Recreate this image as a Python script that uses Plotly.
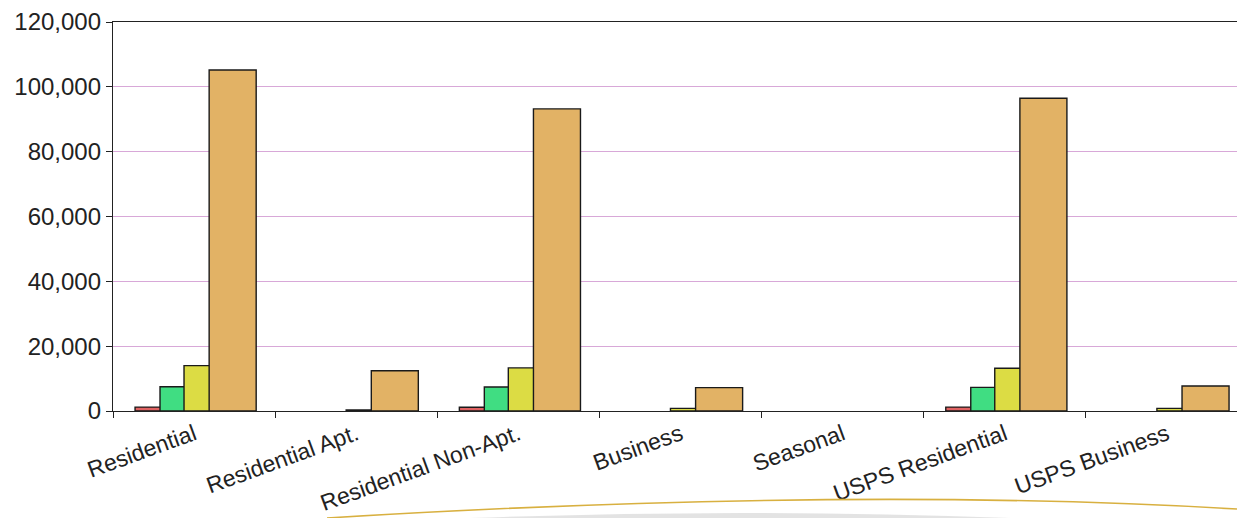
import plotly.graph_objects as go

categories = ["Residential", "Residential Apt.", "Residential Non-Apt.", "Business",
              "Seasonal", "USPS Residential", "USPS Business"]
series_names = ["Series A", "Series B", "Series C", "Series D"]
series_a = [1200, None, 1150, None, None, 1200, None]
series_b = [7500, None, 7400, None, None, 7300, None]
series_c = [14000, 300, 13300, 800, None, 13200, 800]
series_d = [105200, 12400, 93200, 7200, None, 96500, 7700]
series_values = [series_a, series_b, series_c, series_d]
y_tick_values = [0, 20000, 40000, 60000, 80000, 100000, 120000]

colors = ["#e06262", "#40dd82", "#dcdc44", "#e2b265"]
offsets = [-0.364, -0.21, -0.062, 0.093]
bar_width = 0.29

fig = go.Figure()
for name, vals, col, off in zip(series_names, series_values, colors, offsets):
    fig.add_trace(go.Bar(
        x=categories, y=vals, name=name,
        marker=dict(color=col, line=dict(color="#1a1a1a", width=1.4)),
        width=bar_width, offset=off,
    ))

W, H = 1237, 518
ml, mr, mt, mb = 113, 0, 22, 107
pw, ph = W - ml - mr, H - mt - mb

def px(xp):
    return (xp - ml) / pw

def py(yp):
    return (H - mb - yp) / ph

# decorative golden arc and soft grey shadow at the bottom
arc = (f"M {px(327)},{py(518)} Q {px(850)},{py(486)} {px(1237)},{py(509)}")
shadow = (f"M {px(470)},{py(518)} Q {px(740)},{py(508)} {px(1010)},{py(518)} Z")

fig.update_layout(
    width=W, height=H,
    margin=dict(l=ml, r=mr, t=mt, b=mb, pad=0),
    barmode="overlay",
    showlegend=False,
    plot_bgcolor="white", paper_bgcolor="white",
    font=dict(family="Liberation Sans, Arial, sans-serif", size=24, color="#222222"),
    xaxis=dict(
        type="category", range=[-0.5, 6.432],
        tickangle=-20, tickson="boundaries",
        ticks="outside", ticklen=6, tickcolor="#222222",
        showline=True, linecolor="#222222", linewidth=1.3, mirror=True,
        showgrid=False, tickfont=dict(size=23),
    ),
    yaxis=dict(
        range=[0, 120000], tickvals=y_tick_values, tickformat=",",
        ticks="outside", ticklen=6, tickcolor="#222222",
        showline=True, linecolor="#222222", linewidth=1.3,
        showgrid=True, gridcolor="#d8a8d8", gridwidth=1,
        zeroline=False, tickfont=dict(size=24),
    ),
    shapes=[
        dict(type="path", path=shadow, xref="paper", yref="paper",
             fillcolor="rgba(200,200,200,0.5)", line=dict(width=0), layer="below"),
        dict(type="path", path=arc, xref="paper", yref="paper",
             line=dict(color="#d8b040", width=1.6), layer="above"),
    ],
)

fig.write_html("out.html")
